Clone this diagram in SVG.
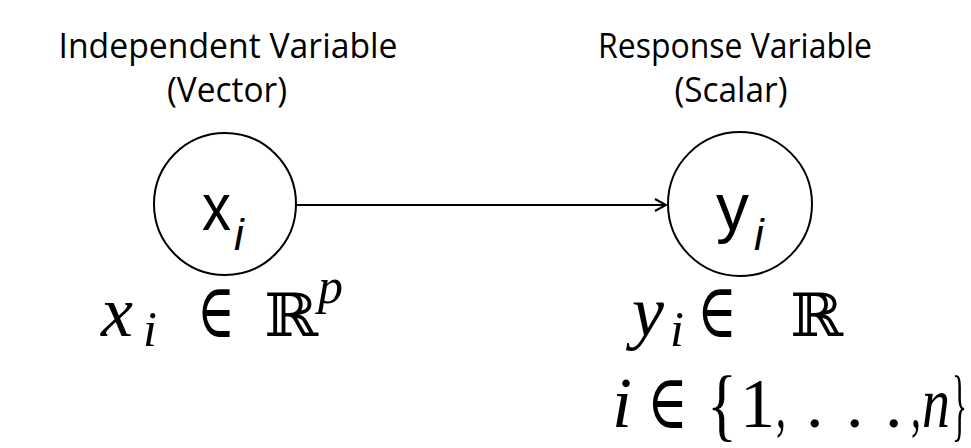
<svg xmlns="http://www.w3.org/2000/svg" width="971" height="448" viewBox="0 0 971 448">
<defs>
<marker id="arr" markerWidth="14" markerHeight="14" refX="12" refY="7" orient="auto" markerUnits="userSpaceOnUse">
<path d="M1,1 L12,7 L1,13" fill="none" stroke="#000" stroke-width="2"/>
</marker>
<style>
.hdr{font-family:"Open Sans","Liberation Sans",sans-serif;font-size:34px;fill:#000;text-anchor:middle}
.node{fill:#fff;stroke:#000;stroke-width:2}
.lbl{font-family:"Liberation Sans","DejaVu Sans",sans-serif;font-size:66px;fill:#000}
.sub{font-size:44px;font-style:italic}
.math{font-family:"Liberation Serif","DejaVu Serif",serif;font-size:70px;fill:#000}
.mi{font-size:72px;font-style:italic}
.ms{font-size:50px;font-style:italic}
.sym{font-size:76px}
.rr{font-family:"DejaVu Serif","Liberation Serif",serif;font-size:60px}
.br{font-size:80px}
</style>
</defs>
<rect width="971" height="448" fill="#fff"/>
<g id="connectors">
<line x1="297" y1="205" x2="666" y2="205" stroke="#000" stroke-width="2" marker-end="url(#arr)"/>
</g>
<g id="node-x">
<text class="hdr" x="228" y="58" textLength="339" lengthAdjust="spacingAndGlyphs">Independent Variable</text>
<text class="hdr" x="227" y="102" textLength="120" lengthAdjust="spacingAndGlyphs">(Vector)</text>
<circle class="node" cx="225" cy="204" r="71"/>
<text class="lbl"><tspan x="202" y="230" textLength="29" lengthAdjust="spacingAndGlyphs">x</tspan><tspan class="sub" x="234" y="250">i</tspan></text>
<text class="math"><tspan class="mi" x="101" y="336">x</tspan><tspan class="ms" x="143" y="346">i</tspan><tspan class="sym" x="197" y="337" textLength="38" lengthAdjust="spacingAndGlyphs">∈</tspan><tspan class="rr" x="264" y="336" textLength="54" lengthAdjust="spacingAndGlyphs">ℝ</tspan><tspan class="ms" x="318" y="303">p</tspan></text>
</g>
<g id="node-y">
<text class="hdr" x="735" y="58" textLength="274" lengthAdjust="spacingAndGlyphs">Response Variable</text>
<text class="hdr" x="731" y="102" textLength="113" lengthAdjust="spacingAndGlyphs">(Scalar)</text>
<circle class="node" cx="740" cy="204" r="72"/>
<text class="lbl"><tspan x="716" y="230" textLength="33" lengthAdjust="spacingAndGlyphs">y</tspan><tspan class="sub" x="754" y="250">i</tspan></text>
<text class="math"><tspan class="mi" x="632" y="336">y</tspan><tspan class="ms" x="670" y="346">i</tspan><tspan class="sym" x="697" y="337" textLength="40" lengthAdjust="spacingAndGlyphs">∈</tspan><tspan class="rr" x="790" y="336" textLength="53" lengthAdjust="spacingAndGlyphs">ℝ</tspan></text>
<text class="math"><tspan class="mi" x="612" y="427">i</tspan><tspan class="sym" x="647" y="428" textLength="41" lengthAdjust="spacingAndGlyphs">∈</tspan><tspan class="br" x="707" y="431" textLength="30" lengthAdjust="spacingAndGlyphs">{</tspan><tspan x="740" y="427">1</tspan><tspan x="776" y="427" textLength="10" lengthAdjust="spacingAndGlyphs">,</tspan><tspan x="806" y="427">.</tspan><tspan x="846" y="427">.</tspan><tspan x="885" y="427">.</tspan><tspan x="911" y="427" textLength="10" lengthAdjust="spacingAndGlyphs">,</tspan><tspan class="mi" x="922" y="427" textLength="28" lengthAdjust="spacingAndGlyphs">n</tspan><tspan class="br" x="952" y="431" textLength="15" lengthAdjust="spacingAndGlyphs">}</tspan></text>
</g>
</svg>
